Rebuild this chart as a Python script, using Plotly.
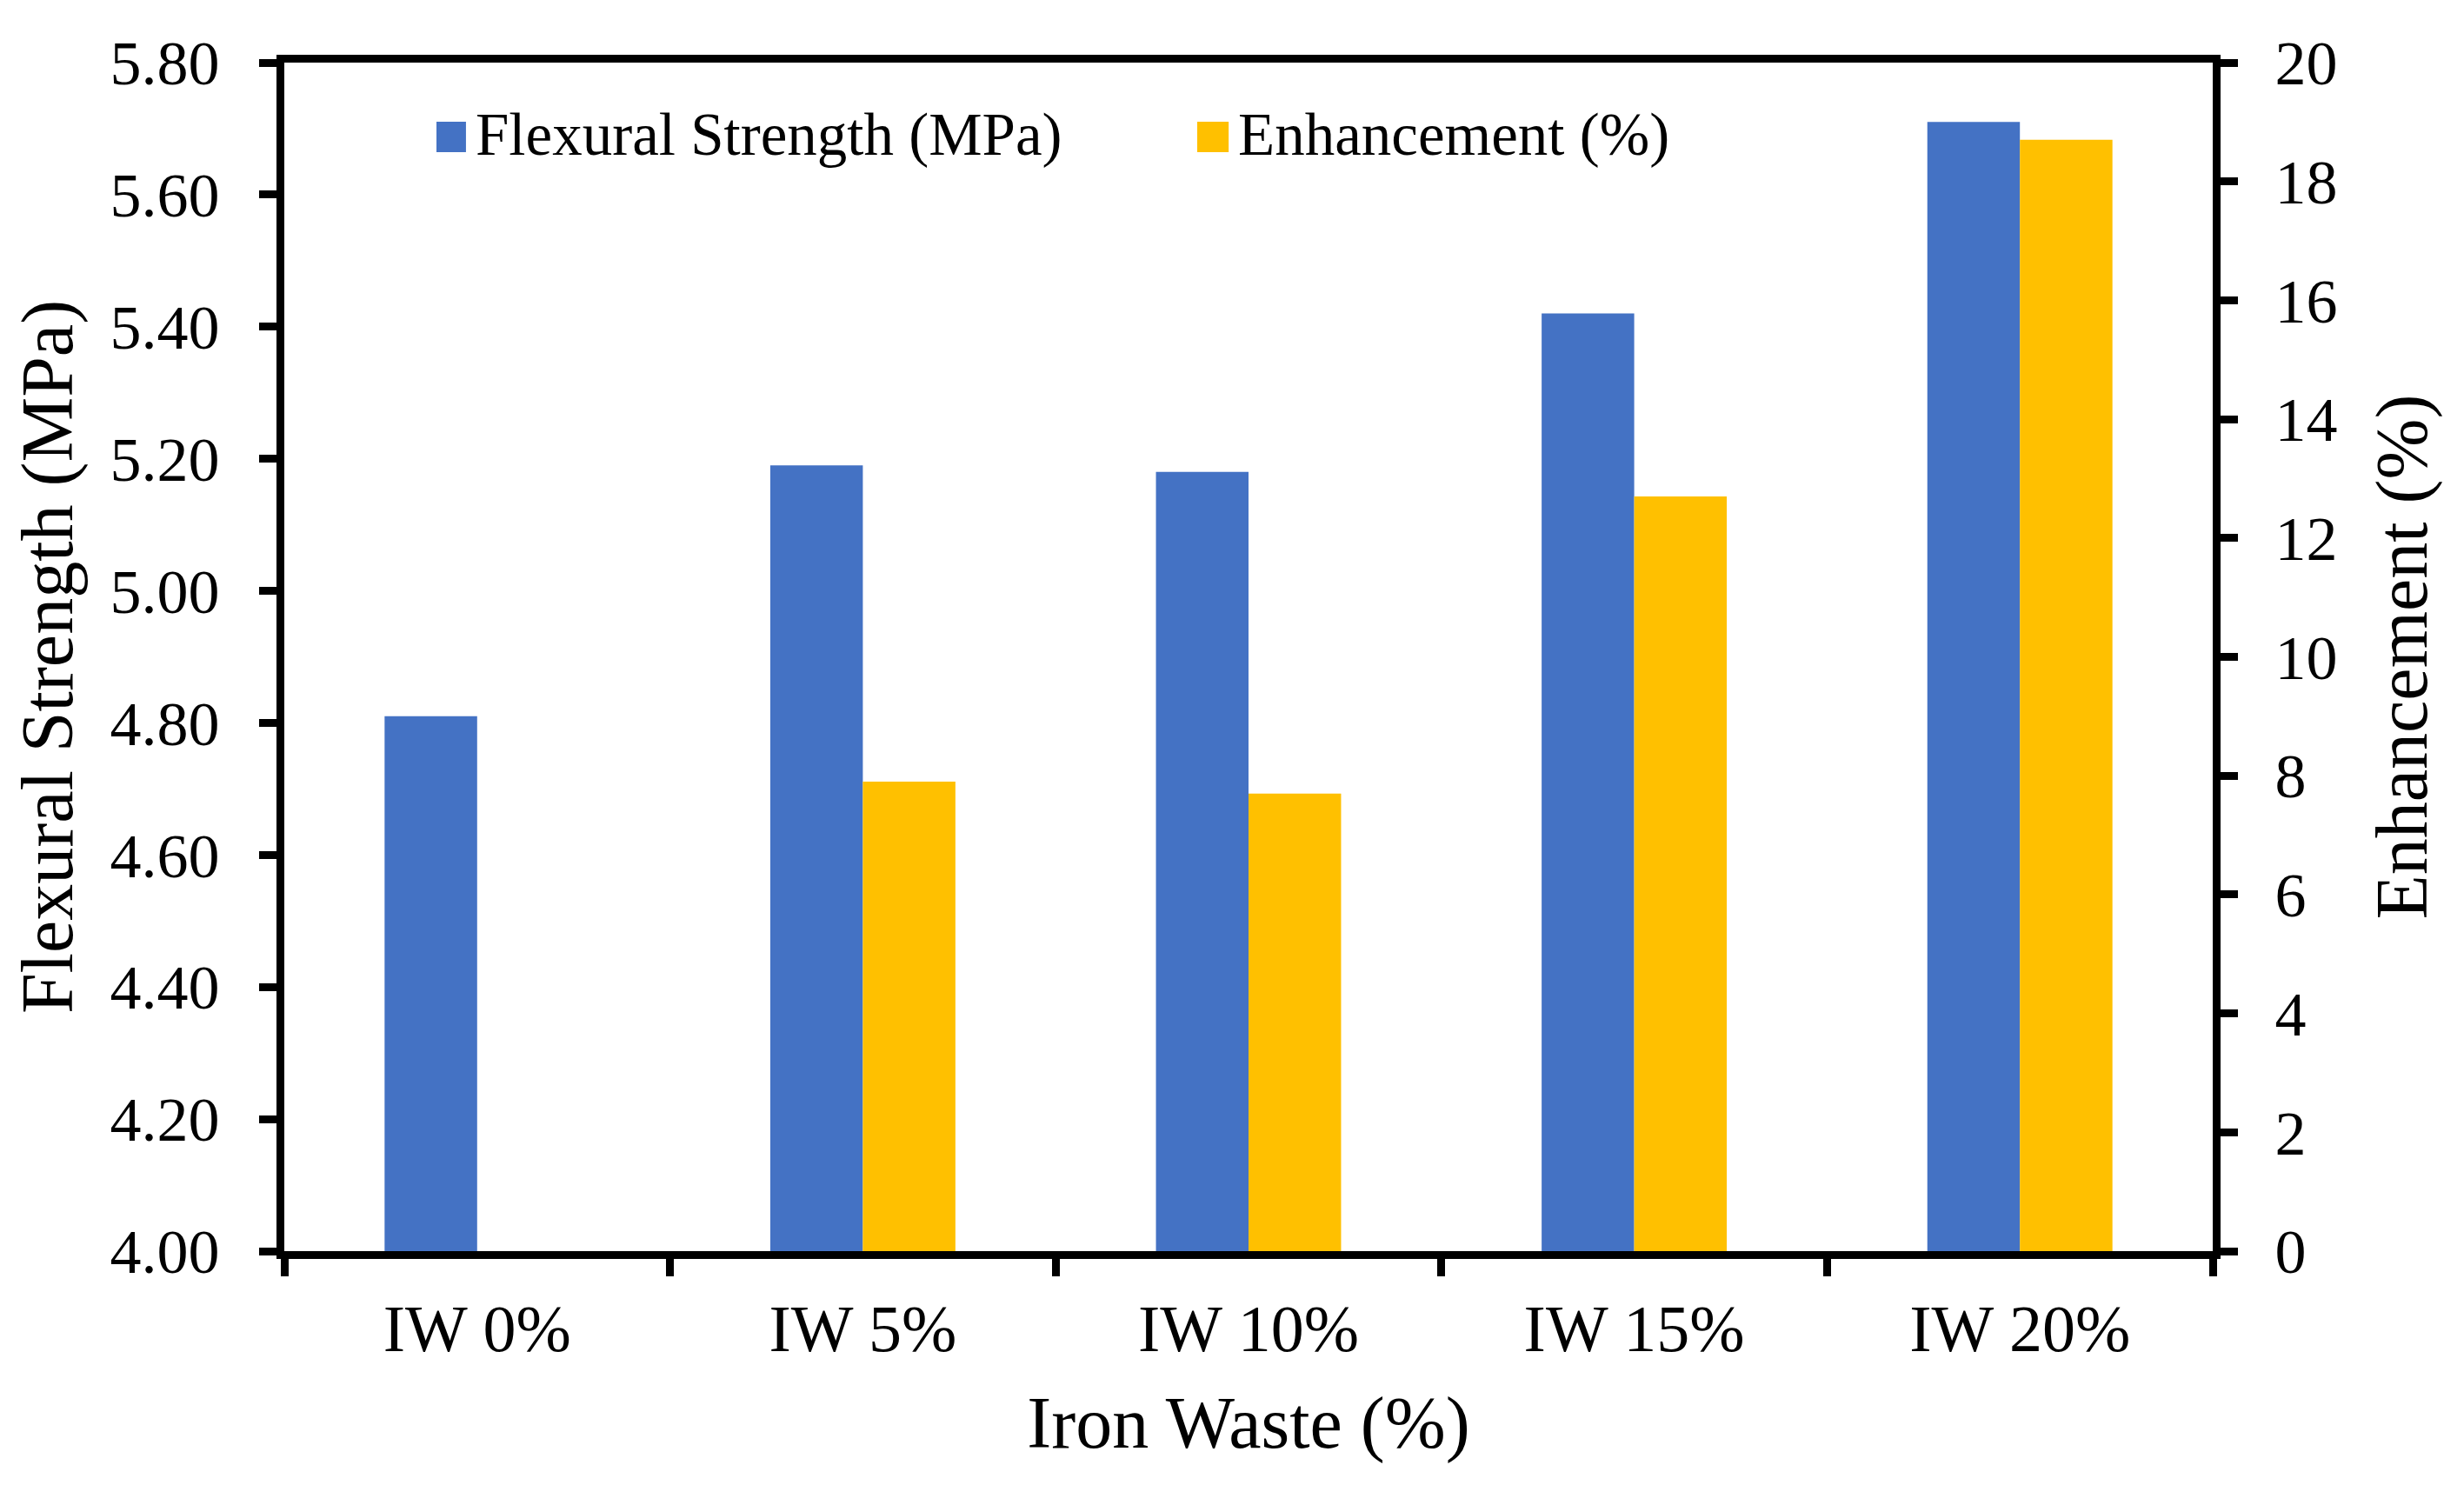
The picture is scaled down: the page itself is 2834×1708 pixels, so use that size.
import plotly.graph_objects as go

# ---- data ----
categories = ["IW 0%", "IW 5%", "IW 10%", "IW 15%", "IW 20%"]
flexural_strength = [4.81, 5.19, 5.18, 5.42, 5.71]
enhancement = [0.0, 7.9, 7.7, 12.7, 18.7]
fs_tick_values = [4.00, 4.20, 4.40, 4.60, 4.80, 5.00, 5.20, 5.40, 5.60, 5.80]
enh_tick_values = [0, 2, 4, 6, 8, 10, 12, 14, 16, 18, 20]
series_names = ["Flexural Strength (MPa)", "Enhancement (%)"]
series_colors = ["#4472C4", "#FFC000"]

FONT = "Liberation Serif, Times New Roman, serif"
W, H = 2834, 1708
L, R, T, B = 319, 297, 64, 277
BAR_W = 0.24

fig = go.Figure()
fig.add_trace(go.Bar(
    x=categories, y=flexural_strength, name=series_names[0],
    marker=dict(color=series_colors[0], line=dict(width=0)),
    width=BAR_W, offset=-BAR_W, yaxis="y", showlegend=False,
))
fig.add_trace(go.Bar(
    x=categories, y=enhancement, name=series_names[1],
    marker=dict(color=series_colors[1], line=dict(width=0)),
    width=BAR_W, offset=0, yaxis="y2", showlegend=False,
))

axis_common = dict(
    showline=True, linecolor="black", linewidth=9,
    ticks="outside", tickcolor="black", tickwidth=9, ticklen=20,
    showgrid=False, zeroline=False,
)

fig.update_layout(
    width=W, height=H,
    margin=dict(l=L, r=R, t=T, b=B, pad=0),
    paper_bgcolor="white", plot_bgcolor="white",
    font=dict(family=FONT, color="black"),
    showlegend=False,
    barmode="overlay",
    xaxis=dict(
        **axis_common,
        type="category",
        tickson="boundaries",
        mirror=True,
        tickfont=dict(family=FONT, size=76, color="black"),
        ticklabelstandoff=15,
        title=dict(text="Iron Waste (%)", font=dict(family=FONT, size=84, color="black"), standoff=40),
    ),
    yaxis=dict(
        **axis_common,
        range=[4.0, 5.8],
        tickvals=fs_tick_values,
        tickformat=".2f",
        tickfont=dict(family=FONT, size=72, color="black"),
        ticklabelstandoff=31,
        title=dict(text="Flexural Strength (MPa)", font=dict(family=FONT, size=84, color="black"), standoff=30),
    ),
    yaxis2=dict(
        **axis_common,
        overlaying="y",
        side="right",
        range=[0, 20],
        tickvals=enh_tick_values,
        tickfont=dict(family=FONT, size=72, color="black"),
        ticklabelstandoff=28,
        title=dict(text="Enhancement (%)", font=dict(family=FONT, size=84, color="black"), standoff=48),
    ),
)

# ---- legend (drawn as shapes + text to match the large square keys) ----
legend_items = [
    (0.0789, 0.0942, 0.0985),
    (0.4734, 0.4897, 0.4935),
]
for (x0, x1, xt), name, color in zip(legend_items, series_names, series_colors):
    fig.add_shape(type="rect", xref="paper", yref="paper",
                  x0=x0, x1=x1, y0=0.9247, y1=0.9503,
                  fillcolor=color, line=dict(width=0))
    fig.add_annotation(xref="paper", yref="paper", x=xt, y=0.9394,
                       xanchor="left", yanchor="middle", showarrow=False,
                       text=name, font=dict(family=FONT, size=69, color="black"))

fig.write_html("out.html")
